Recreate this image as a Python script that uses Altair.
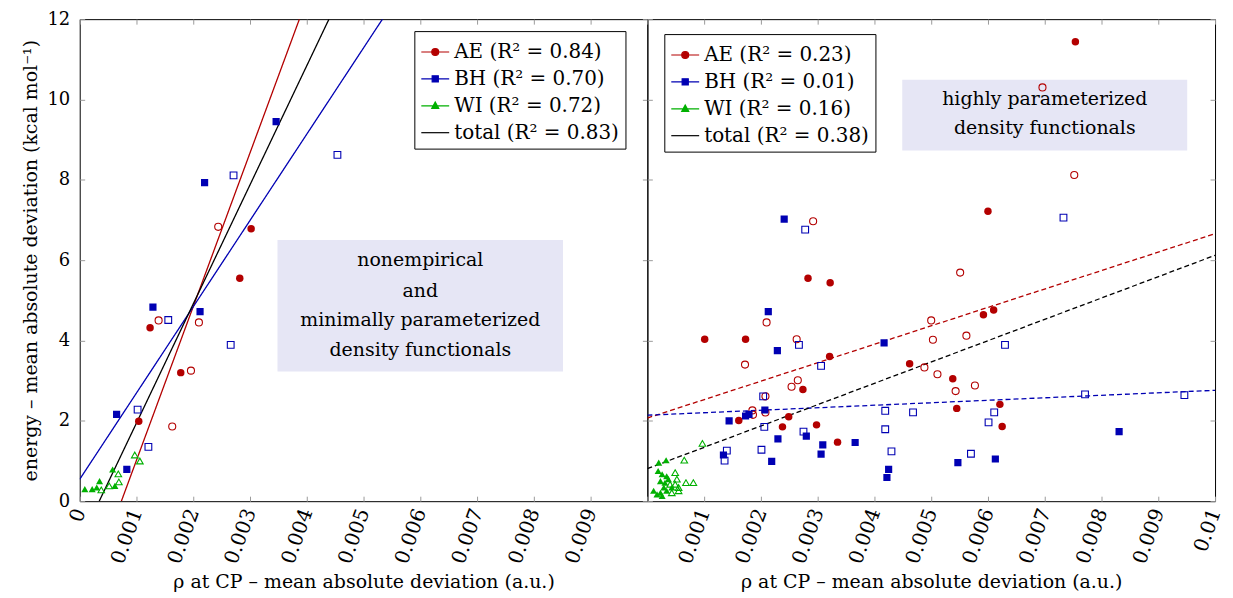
import altair as alt
import pandas as pd

# ---------------- data ----------------
# left panel: nonempirical and minimally parameterized
L_AE_F_X = [0.00302, 0.00282, 0.00124, 0.00178, 0.00104]
L_AE_F_Y = [6.78, 5.55, 4.32, 3.20, 1.99]
L_AE_O_X = [0.00244, 0.00139, 0.00210, 0.00196, 0.00163]
L_AE_O_Y = [6.83, 4.50, 4.45, 3.25, 1.86]
L_BH_F_X = [0.00346, 0.00220, 0.00129, 0.00212, 0.00065, 0.00083]
L_BH_F_Y = [9.45, 7.93, 4.83, 4.72, 2.16, 0.79]
L_BH_O_X = [0.00454, 0.00271, 0.00156, 0.00266, 0.00102, 0.00121]
L_BH_O_Y = [8.62, 8.11, 4.51, 3.89, 2.28, 1.35]
L_WI_F_X = [0.00009, 0.00022, 0.00030, 0.00035, 0.00058, 0.00062]
L_WI_F_Y = [0.30, 0.30, 0.34, 0.50, 0.79, 0.38]
L_WI_O_X = [0.00097, 0.00106, 0.00068, 0.00069, 0.00052, 0.00038]
L_WI_O_Y = [1.15, 1.00, 0.68, 0.48, 0.38, 0.28]

# right panel: highly parameterized
R_AE_F_X = [0.00754, 0.00600, 0.00283, 0.00322, 0.00101, 0.00173, 0.00592, 0.00610, 0.00321, 0.00462,
            0.00274, 0.00538, 0.00545, 0.00621, 0.00625, 0.00249, 0.00161, 0.00238, 0.00298, 0.00335]
R_AE_F_Y = [11.44, 7.22, 5.55, 5.44, 4.03, 4.03, 4.64, 4.76, 3.60, 3.42,
            2.78, 3.05, 2.31, 2.41, 1.86, 2.10, 2.01, 1.85, 1.90, 1.47]
R_AE_O_X = [0.00696, 0.00752, 0.00292, 0.00551, 0.00210, 0.00263, 0.00172, 0.00265, 0.00254, 0.00500,
            0.00503, 0.00562, 0.00488, 0.00511, 0.00577, 0.00543, 0.00208, 0.00208, 0.00185, 0.00186]
R_AE_O_Y = [10.30, 8.12, 6.97, 5.69, 4.45, 4.03, 3.40, 3.01, 2.85, 4.50,
            4.02, 4.12, 3.33, 3.16, 2.88, 2.74, 2.61, 2.21, 2.26, 2.15]
R_BH_F_X = [0.00241, 0.00213, 0.00229, 0.00417, 0.00207, 0.00173, 0.00179, 0.00144, 0.00230, 0.00280,
            0.00309, 0.00366, 0.00306, 0.00134, 0.00219, 0.00547, 0.00613, 0.00425, 0.00422, 0.00831]
R_BH_F_Y = [7.02, 4.72, 3.75, 3.94, 2.27, 2.12, 2.16, 2.00, 1.55, 1.62,
            1.40, 1.46, 1.17, 1.15, 0.99, 0.96, 1.05, 0.79, 0.59, 1.73]
R_BH_O_X = [0.00733, 0.00278, 0.00267, 0.00306, 0.00630, 0.00204, 0.00771, 0.00946, 0.00419, 0.00468,
            0.00611, 0.00601, 0.00206, 0.00275, 0.00419, 0.00140, 0.00136, 0.00201, 0.00430, 0.00570]
R_BH_O_Y = [7.06, 6.76, 3.89, 3.37, 3.89, 2.61, 2.66, 2.64, 2.25, 2.21,
            2.21, 1.96, 1.85, 1.73, 1.79, 1.26, 1.01, 1.28, 1.24, 1.18]
R_WI_F_X = [0.00020, 0.00033, 0.00019, 0.00026, 0.00034, 0.00023, 0.00031, 0.00037, 0.00029, 0.00011,
            0.00017, 0.00026, 0.00034, 0.00043, 0.00023]
R_WI_F_Y = [0.96, 1.02, 0.75, 0.67, 0.62, 0.50, 0.46, 0.55, 0.34, 0.26,
            0.17, 0.13, 0.26, 0.34, 0.21]
R_WI_O_X = [0.00065, 0.00097, 0.00052, 0.00049, 0.00055, 0.00068, 0.00081, 0.00043, 0.00055, 0.00049, 0.00040]
R_WI_O_Y = [1.02, 1.44, 0.55, 0.42, 0.34, 0.46, 0.46, 0.21, 0.26, 0.71, 0.42]

# fit lines (end points)
L_LINE_SERIES = ["AE", "BH", "total"]
L_LINE_X = [[0.000734, 0.00387], [0.0, 0.005333], [0.000344, 0.004391]]
L_LINE_Y = [[0.0, 12.0], [0.545, 12.0], [0.0, 12.0]]
R_LINE_SERIES = ["AE", "BH", "total"]
R_LINE_X = [[0.0, 0.01], [0.0, 0.01], [0.0, 0.01]]
R_LINE_Y = [[2.07, 6.66], [2.14, 2.76], [0.81, 6.12]]

# legend labels
L_LEGEND = ["AE (R² = 0.84)", "BH (R² = 0.70)", "WI (R² = 0.72)", "total (R² = 0.83)"]
R_LEGEND = ["AE (R² = 0.23)", "BH (R² = 0.01)", "WI (R² = 0.16)", "total (R² = 0.38)"]

# annotation boxes and texts
L_BOX = [0.003484, 0.008514, 3.23, 6.50]
L_TEXT = ["nonempirical", "and", "minimally parameterized", "density functionals"]
L_TEXT_X = [0.0060, 0.0060, 0.0060, 0.0060]
L_TEXT_Y = [6.00, 5.22, 4.50, 3.77]
R_BOX = [0.00449, 0.00951, 8.73, 10.49]
R_TEXT = ["highly parameterized", "density functionals"]
R_TEXT_X = [0.0070, 0.0070]
R_TEXT_Y = [10.01, 9.28]

X_TICKS = [0, 0.001, 0.002, 0.003, 0.004, 0.005, 0.006, 0.007, 0.008, 0.009, 0.01]
Y_TICKS = [0, 2, 4, 6, 8, 10, 12]

# ---------------- styles ----------------
RED, BLUE, GREEN, BLACK = "#b30000", "#0000b3", "#00b000", "#000000"
COLORS = {"AE": RED, "BH": BLUE, "WI": GREEN, "total": BLACK}
SHAPES = {"AE": "circle", "BH": "square", "WI": "triangle-up"}
SIZES = {"AE": 56, "BH": 52, "WI": 50}
FONT = "DejaVu Serif"
TICKC = "#9a9a9a"
P_CIRC = "M-1,0H1M-0.25,0A0.25,0.25,0,1,0,0.25,0A0.25,0.25,0,1,0,-0.25,0Z"
P_SQ = "M-1,0H1M-0.22,-0.22H0.22V0.22H-0.22Z"
P_TRI = "M-1,0H1M0,-0.27L0.25,0.18L-0.25,0.18Z"
P_LINE = "M-1,0H1"

XT = "ρ at CP – mean absolute deviation (a.u.)"
YT = "energy – mean absolute deviation (kcal mol⁻¹)"

PANEL_W, PANEL_H = 570, 484


def xs():
    return alt.Scale(domain=[0, 0.01], nice=False, zero=False)


def ys():
    return alt.Scale(domain=[0, 12], nice=False, zero=False)


def make_panel(pts, lines, legend_labels, legend_xy, label_expr, y_labels, box, texts, dashed):
    bottom_axis = alt.Axis(orient="bottom", values=X_TICKS, labelExpr=label_expr, labelAngle=290,
                           labelAlign="right", labelBaseline="middle", labelFont=FONT, labelFontSize=20,
                           labelColor="black", labelPadding=8, labelOverlap=False, labelFlush=False,
                           tickSize=5, tickColor=TICKC, offset=-5, domain=False, grid=False,
                           title=XT, titleFont=FONT, titleFontSize=19, titleFontWeight="normal",
                           titleColor="black", titlePadding=6)
    if y_labels:
        left_axis = alt.Axis(orient="left", values=Y_TICKS, labelFont=FONT, labelFontSize=18,
                             labelColor="black", labelPadding=10, tickSize=5, tickColor=TICKC,
                             offset=-5, domain=False, grid=False, title=YT, titleFont=FONT,
                             titleFontSize=19, titleFontWeight="normal", titleColor="black",
                             titlePadding=6)
    else:
        left_axis = alt.Axis(orient="left", values=Y_TICKS, labels=False, tickSize=5, tickColor=TICKC,
                             offset=-5, domain=False, grid=False, title=None)
    top_axis = alt.Axis(orient="top", values=X_TICKS, labels=False, tickSize=5, tickColor=TICKC,
                        offset=-5, domain=False, grid=False, title=None)
    right_axis = alt.Axis(orient="right", values=Y_TICKS, labels=False, tickSize=5, tickColor=TICKC,
                          offset=-5, domain=False, grid=False, title=None)

    box_df = pd.DataFrame({"x0": [box[0]], "x1": [box[1]], "y0": [box[2]], "y1": [box[3]]})
    rect = alt.Chart(box_df).mark_rect(color="#e6e6f5").encode(
        x=alt.X("x0:Q", scale=xs(), axis=bottom_axis), x2="x1:Q",
        y=alt.Y("y0:Q", scale=ys(), axis=left_axis), y2="y1:Q")

    line = alt.Chart(lines).mark_line(clip=True, strokeWidth=1.3,
                                      strokeDash=[5, 3] if dashed else [1, 0]).encode(
        x=alt.X("x:Q", scale=xs(), axis=top_axis),
        y=alt.Y("y:Q", scale=ys(), axis=right_axis),
        color=alt.Color("col:N", scale=None),
        detail="series:N", order="k:Q")

    layers = [rect, line]
    for s in ["AE", "BH", "WI"]:
        for filled in [False, True]:
            sub = pts[(pts.series == s) & (pts.filled == filled)]
            layers.append(alt.Chart(sub).mark_point(
                shape=SHAPES[s], filled=filled, color=COLORS[s], size=SIZES[s] if filled else SIZES[s] - 6,
                strokeWidth=1.1, opacity=1, clip=True).encode(
                x=alt.X("x:Q", scale=xs(), axis=None),
                y=alt.Y("y:Q", scale=ys(), axis=None)))

    txt = alt.Chart(texts).mark_text(font=FONT, fontSize=19, color="black", baseline="middle",
                                     align="center").encode(
        x=alt.X("x:Q", scale=xs(), axis=None), y=alt.Y("y:Q", scale=ys(), axis=None), text="t:N")
    layers.append(txt)

    leg = alt.Legend(orient="none", legendX=legend_xy[0], legendY=legend_xy[1], title=None,
                     strokeColor="black", fillColor="white", padding=6, labelFont=FONT,
                     labelFontSize=20, labelColor="black", symbolSize=784, symbolStrokeWidth=1.2,
                     labelOffset=4, rowPadding=2, cornerRadius=0, labelLimit=400)
    cols = [RED, BLUE, GREEN, BLACK]
    legdf = pd.DataFrame({"label": legend_labels})
    legend_layer = alt.Chart(legdf).transform_filter("false").mark_point(opacity=1).encode(
        fill=alt.Fill("label:N", scale=alt.Scale(domain=legend_labels, range=cols), legend=leg),
        stroke=alt.Stroke("label:N", scale=alt.Scale(domain=legend_labels, range=cols), legend=leg),
        shape=alt.Shape("label:N", scale=alt.Scale(domain=legend_labels,
                                                   range=[P_CIRC, P_SQ, P_TRI, P_LINE]), legend=leg))
    layers.append(legend_layer)

    return alt.layer(*layers).resolve_axis(x="independent", y="independent").properties(
        width=PANEL_W, height=PANEL_H)


def build_points(groups):
    rows = []
    for s, filled, xv, yv in groups:
        for x, y in zip(xv, yv):
            rows.append({"series": s, "filled": filled, "x": x, "y": y})
    return pd.DataFrame(rows)


def build_lines(series, xl, yl):
    rows = []
    for s, xv, yv in zip(series, xl, yl):
        for k, (x, y) in enumerate(zip(xv, yv)):
            rows.append({"series": s, "col": COLORS[s], "k": k, "x": x, "y": y})
    return pd.DataFrame(rows)


left_pts = build_points([("AE", True, L_AE_F_X, L_AE_F_Y), ("AE", False, L_AE_O_X, L_AE_O_Y),
                         ("BH", True, L_BH_F_X, L_BH_F_Y), ("BH", False, L_BH_O_X, L_BH_O_Y),
                         ("WI", True, L_WI_F_X, L_WI_F_Y), ("WI", False, L_WI_O_X, L_WI_O_Y)])
right_pts = build_points([("AE", True, R_AE_F_X, R_AE_F_Y), ("AE", False, R_AE_O_X, R_AE_O_Y),
                          ("BH", True, R_BH_F_X, R_BH_F_Y), ("BH", False, R_BH_O_X, R_BH_O_Y),
                          ("WI", True, R_WI_F_X, R_WI_F_Y), ("WI", False, R_WI_O_X, R_WI_O_Y)])

left = make_panel(left_pts, build_lines(L_LINE_SERIES, L_LINE_X, L_LINE_Y), L_LEGEND, (336, 12),
                  "datum.value > 0.0095 ? '' : format(datum.value, '~g')", True, L_BOX,
                  pd.DataFrame({"t": L_TEXT, "x": L_TEXT_X, "y": L_TEXT_Y}), False)
right = make_panel(right_pts, build_lines(R_LINE_SERIES, R_LINE_X, R_LINE_Y), R_LEGEND, (17, 15),
                   "datum.value < 0.0005 ? '' : format(datum.value, '~g')", False, R_BOX,
                   pd.DataFrame({"t": R_TEXT, "x": R_TEXT_X, "y": R_TEXT_Y}), True)

chart = alt.HConcatChart(hconcat=[left, right], spacing=0, bounds="flush").resolve_scale(
    fill="independent", stroke="independent", shape="independent").resolve_legend(
    fill="independent", stroke="independent", shape="independent").properties(
    padding={"left": 13, "top": 0, "right": 0, "bottom": 0}, background="white").configure_view(
    stroke="black", strokeWidth=1)

chart.save("out.html", embed_options={"renderer": "svg", "actions": False})
